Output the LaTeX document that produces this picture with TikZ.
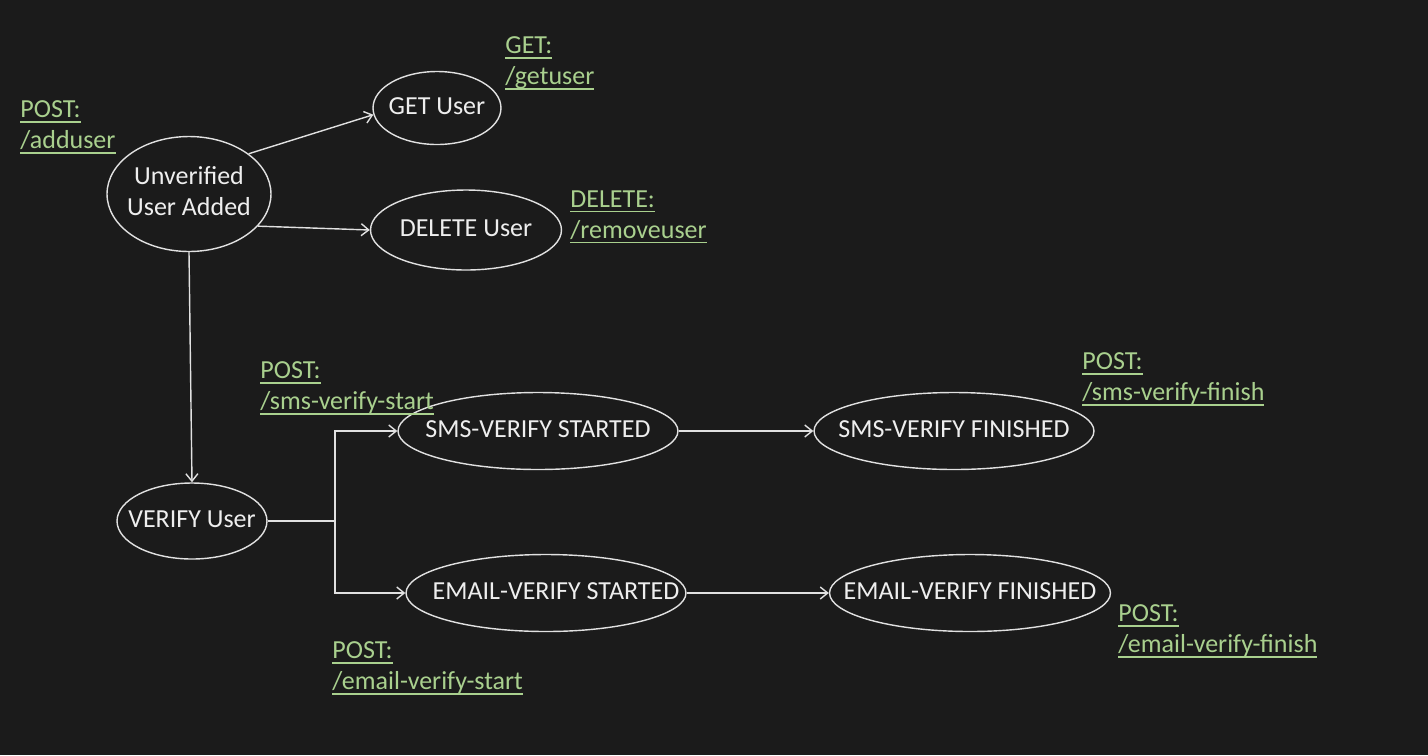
\documentclass[tikz,border=0pt]{standalone}
\usepackage{fontspec}
\setmainfont{Carlito}
\usetikzlibrary{shapes.geometric, arrows.meta}

\definecolor{ccbg}{RGB}{27,27,27}
\definecolor{ccline}{RGB}{225,225,225}
\definecolor{cctext}{RGB}{238,238,238}
\definecolor{ccgreen}{RGB}{169,208,142}

% underlined endpoint text
\newcommand{\undl}[1]{\setbox0\hbox{#1}\rlap{\rule[-0.2em]{\wd0}{0.8pt}}\box0}
% state text, takes no room so the ellipse keeps its own size
\newcommand{\stxt}[1]{\makebox[0pt]{\begin{tabular}{@{}c@{}}#1\end{tabular}}}

\begin{document}
\begin{tikzpicture}[x=0.02cm, y=-0.02cm,
  state/.style={ellipse, draw=ccline, line width=0.8pt, inner sep=0pt, text=cctext,
    font=\fontsize{14.8pt}{17.6pt}\selectfont},
  endpoint/.style={anchor=west, inner sep=0pt, text=ccgreen, align=left,
    font=\fontsize{14.8pt}{17.6pt}\selectfont},
  trans/.style={draw=ccline, line width=0.8pt, -{Straight Barb[length=1.5mm, width=2.4mm]}}]

  % Background
  \fill[ccbg] (0,0) rectangle (1428,755);

  % States
  \draw (189,194) node[state, minimum width=3.28cm, minimum height=2.3cm] (added) {\stxt{Unverified\\User Added}};
  \draw (437,108) node[state, minimum width=2.56cm, minimum height=1.46cm] (get) {\stxt{GET User}};
  \draw (466,230) node[state, minimum width=3.82cm, minimum height=1.6cm] (delete) {\stxt{DELETE User}};
  \draw (192,521) node[state, minimum width=3.0cm, minimum height=1.52cm] (verify) {\stxt{VERIFY User}};
  \draw (538,431) node[state, minimum width=5.6cm, minimum height=1.54cm] (smsstart) {\stxt{SMS-VERIFY STARTED}};
  \draw (954,431) node[state, minimum width=5.6cm, minimum height=1.54cm] (smsfinish) {\stxt{SMS-VERIFY FINISHED}};
  \draw (546,593) node[state, minimum width=5.6cm, minimum height=1.54cm] (emailstart) {\stxt{\hspace{0.4cm}EMAIL-VERIFY STARTED}};
  \draw (970,593) node[state, minimum width=5.62cm, minimum height=1.54cm] (emailfinish) {\stxt{EMAIL-VERIFY FINISHED}};

  % Transitions
  \draw[trans] (added.34) -- (get.186);
  \draw[trans] (added.-25) -- (delete.west);
  \draw[trans] (added.south) -- (verify.north);

  \coordinate (fork) at (335,521);
  \draw[draw=ccline, line width=0.8pt] (verify.east) -- (fork);
  \draw[trans] (fork) |- (smsstart);
  \draw[trans] (fork) |- (emailstart);

  \draw[trans] (smsstart) -- (smsfinish);
  \draw[trans] (emailstart) -- (emailfinish);

  % Endpoints
  \draw (20,127) node[endpoint] (epadd) {\undl{POST:}\\\undl{/adduser}};
  \draw (505,63) node[endpoint] (epget) {\undl{GET:}\\\undl{/getuser}};
  \draw (570,217) node[endpoint] (epdelete) {\undl{DELETE:}\\\undl{/removeuser}};
  \draw (260,388) node[endpoint] (epsmsstart) {\undl{POST:}\\\undl{/sms-verify-start}};
  \draw (1082,379) node[endpoint] (epsmsfinish) {\undl{POST:}\\\undl{/sms-verify-finish}};
  \draw (332,668) node[endpoint] (epemailstart) {\undl{POST:}\\\undl{/email-verify-start}};
  \draw (1118,631) node[endpoint] (epemailfinish) {\undl{POST:}\\\undl{/email-verify-finish}};

\end{tikzpicture}
\end{document}
